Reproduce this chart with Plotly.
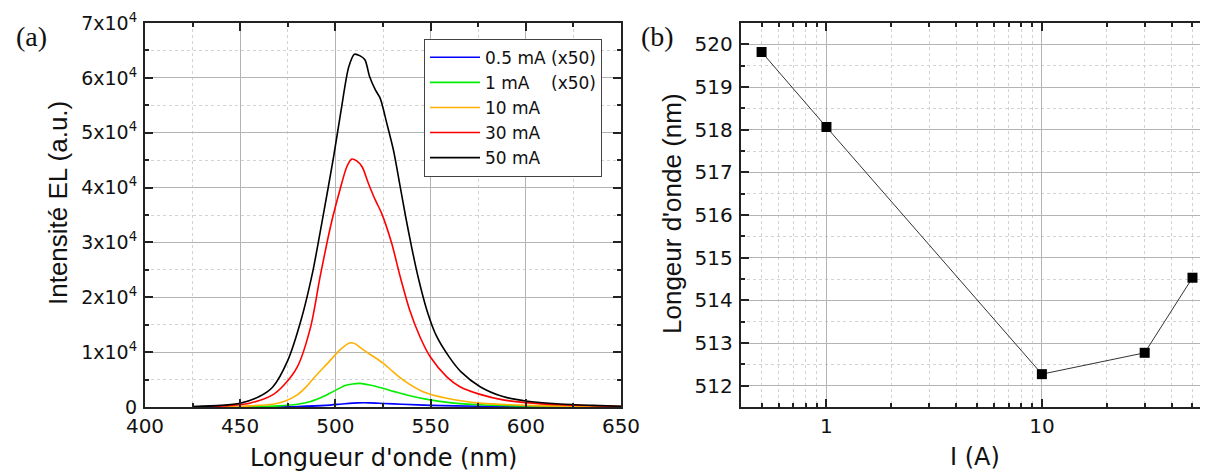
import plotly.graph_objects as go

# ---------------- data: panel (a) EL spectra (intensity in units of 1e4) ----------------
wl_50 = [425, 440, 450, 460, 467, 475, 482, 488, 493, 499, 503, 507, 510, 513, 515.5, 518, 521, 523.5,
         527, 530.5, 534, 537, 540, 543.5, 548, 553, 560, 566, 576, 588, 600, 618, 635, 650]
I_50 = [0.01, 0.03, 0.07, 0.19, 0.36, 0.85, 1.59, 2.45, 3.38, 4.55, 5.41, 6.20, 6.43, 6.40, 6.33, 6.02,
        5.78, 5.63, 5.17, 4.68, 4.02, 3.45, 2.92, 2.36, 1.77, 1.30, 0.90, 0.64, 0.37, 0.19, 0.11, 0.055,
        0.03, 0.015]

wl_30 = [430, 445, 455, 467, 473, 480, 487, 492, 497.5, 502.4, 506, 508.6, 511, 514, 517.3, 521, 524.3,
         529.6, 534, 539, 544.4, 549.7, 558.5, 565.4, 576, 588, 600, 618, 650]
I_30 = [0.0, 0.03, 0.07, 0.22, 0.40, 0.73, 1.46, 2.38, 3.30, 3.96, 4.38, 4.52, 4.49, 4.38, 4.08, 3.77,
        3.53, 2.98, 2.38, 1.77, 1.28, 0.92, 0.55, 0.37, 0.23, 0.13, 0.08, 0.04, 0.01]

wl_10 = [440, 455, 467, 473, 480, 485, 490, 496, 502.4, 507.7, 510, 514.7, 520, 525, 530, 535.7, 546,
         558.5, 576, 600, 650]
I_10 = [0.0, 0.02, 0.05, 0.10, 0.22, 0.38, 0.58, 0.80, 1.04, 1.17, 1.16, 1.04, 0.92, 0.80, 0.65, 0.49,
        0.28, 0.16, 0.07, 0.03, 0.01]

wl_1 = [450, 470, 480, 487, 493.6, 497, 502, 505, 509, 513, 518, 525, 531, 537.4, 549.7, 560, 576, 600, 650]
I_1 = [0.0, 0.02, 0.05, 0.10, 0.19, 0.25, 0.34, 0.39, 0.42, 0.43, 0.40, 0.34, 0.28, 0.22, 0.13, 0.08,
       0.04, 0.02, 0.005]

wl_05 = [460, 480, 495, 505, 512, 518, 525, 535, 550, 575, 600, 650]
I_05 = [0.0, 0.01, 0.03, 0.06, 0.075, 0.075, 0.065, 0.05, 0.03, 0.015, 0.008, 0.003]

series_names = ["0.5 mA (x50)", "1 mA \u00a0\u00a0\u00a0(x50)", "10 mA", "30 mA", "50 mA"]
series_colors = ["#0000ff", "#00ee00", "#ffb000", "#ff0000", "#000000"]

# ---------------- data: panel (b) peak wavelength vs current ----------------
current = [0.5, 1, 10, 30, 50]
peak_wl = [519.82, 518.06, 512.27, 512.77, 514.53]

# tick labels
ya_vals = [0, 1e4, 2e4, 3e4, 4e4, 5e4, 6e4, 7e4]
ya_text = ["0"] + [f"{k}x10<sup>4</sup>" for k in range(1, 8)]
xb_vals = [1, 10]
xb_text = ["1", "10"]
xb_minor = [0.5, 0.6, 0.7, 0.8, 0.9, 2, 3, 4, 5, 6, 7, 8, 9, 20, 30, 40, 50]

FONT = "DejaVu Sans, Liberation Sans, sans-serif"
FONT_N = "Liberation Sans, Arial, sans-serif"
SERIF = "Liberation Serif, Times New Roman, serif"
OFF = 8                      # page body margin in the viewer
W, H = 1208 - OFF, 475 - OFF


def px(x):
    return (x - OFF) / W


def py(y):
    return 1 - (y - OFF) / H


fig = go.Figure()
spectra = [(wl_05, I_05), (wl_1, I_1), (wl_10, I_10), (wl_30, I_30), (wl_50, I_50)]
for (wl, I), name, col in zip(spectra, series_names, series_colors):
    fig.add_trace(go.Scatter(x=wl, y=[v * 1e4 for v in I], mode="lines", name=name,
                             line=dict(color=col, width=1.6, shape="spline", smoothing=0.8),
                             xaxis="x", yaxis="y"))

fig.add_trace(go.Scatter(x=current, y=peak_wl, mode="lines+markers", showlegend=False,
                         line=dict(color="#333333", width=1),
                         marker=dict(symbol="square", size=10, color="#000000"),
                         xaxis="x2", yaxis="y2"))

major_grid = "#b4b4b4"
minor_grid = "#d2d2d2"
axis_common = dict(showline=True, linecolor="#222222", linewidth=2, mirror="allticks",
                   ticks="inside", ticklen=8, tickwidth=1.5, tickcolor="#222222",
                   showgrid=True, gridcolor=major_grid, gridwidth=1, zeroline=False,
                   automargin=False)

ya0 = py(407)
ya1 = py(23)

fig.update_layout(
    width=W, height=H,
    margin=dict(l=0, r=0, t=0, b=0, pad=0, autoexpand=False),
    paper_bgcolor="white", plot_bgcolor="white",
    font=dict(family=FONT, color="#111111"),
    xaxis=dict(domain=[px(145), px(621)], range=[400, 650], tickvals=[400, 450, 500, 550, 600, 650],
               tickfont=dict(size=20), ticklabelstandoff=0,
               minor=dict(dtick=25, tick0=400, ticks="inside", ticklen=4, tickcolor="#222222",
                          showgrid=True, gridcolor=minor_grid, griddash="dot"),
               anchor="y", **axis_common),
    yaxis=dict(domain=[ya0, ya1], range=[0, 7e4], tickvals=ya_vals, ticktext=ya_text,
               tickfont=dict(size=19), ticklabelstandoff=2,
               minor=dict(dtick=5e3, tick0=0, ticks="inside", ticklen=4, tickcolor="#222222",
                          showgrid=True, gridcolor=minor_grid, griddash="dot"),
               anchor="x", **axis_common),
    xaxis2=dict(domain=[px(740.7), 1.0], type="log", range=[-0.398, 1.771],
                tickvals=xb_vals, ticktext=xb_text, tickfont=dict(size=20), ticklabelstandoff=0,
                minor=dict(tickvals=xb_minor, ticks="inside", ticklen=4, tickcolor="#222222",
                           showgrid=True, gridcolor=minor_grid, griddash="dot"),
                anchor="y2", **axis_common),
    yaxis2=dict(domain=[ya0, ya1], range=[511.5, 520.5], dtick=1, tick0=512,
                tickfont=dict(size=20), ticklabelstandoff=2,
                minor=dict(dtick=0.5, tick0=512, ticks="inside", ticklen=4, tickcolor="#222222",
                           showgrid=True, gridcolor=minor_grid, griddash="dot"),
                anchor="x2", **axis_common),
    legend=dict(x=px(424), y=py(38.7), xanchor="left", yanchor="top",
                bgcolor="white", bordercolor="#444444", borderwidth=1,
                font=dict(size=17, family=FONT), itemwidth=50, tracegroupgap=0),
    showlegend=True,
)

annotations = [
    dict(text="(a)", x=px(31), y=py(36), font=dict(size=28, family=SERIF)),
    dict(text="(b)", x=px(657), y=py(36), font=dict(size=28, family=SERIF)),
    dict(text="Longueur d'onde (nm)", x=px(383), y=py(458), font=dict(size=24)),
    dict(text="I (A)", x=px(975), y=py(456.5), font=dict(size=24)),
    dict(text="Intensité EL (a.u.)", x=px(58), y=py(203), textangle=-90, font=dict(size=26, family=FONT_N)),
    dict(text="Longeur d'onde (nm)", x=px(671.5), y=py(213.5), textangle=-90, font=dict(size=26, family=FONT_N)),
]
for a in annotations:
    a.update(xref="paper", yref="paper", xanchor="center", yanchor="middle", showarrow=False)
    a["font"].setdefault("family", FONT)
    a["font"].setdefault("color", "#111111")
fig.update_layout(annotations=annotations)

fig.write_html("out.html")
